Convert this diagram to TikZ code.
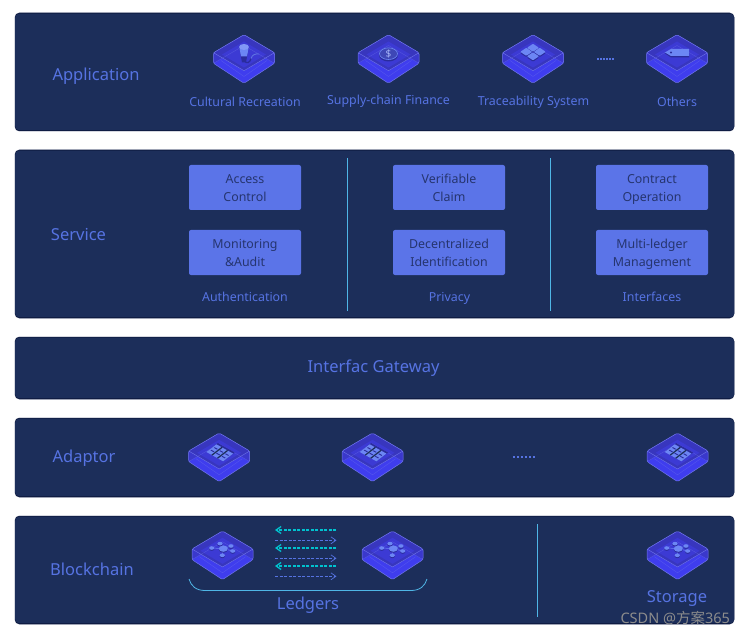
\documentclass[tikz,border=0pt]{standalone}
\usepackage{fontspec}
\setmainfont{Noto Sans}
\newfontfamily\cjkfont{Noto Sans CJK SC}
\usetikzlibrary{arrows.meta}
\definecolor{panelblue}{HTML}{1C2E5A}
\definecolor{paneledge}{HTML}{0E1A40}
\definecolor{panelrimgray}{HTML}{8C93A8}
\definecolor{labelblue}{HTML}{5673E2}
\definecolor{boxblue}{HTML}{5B74E8}
\definecolor{boxtext}{HTML}{26356F}
\definecolor{slabblue}{HTML}{3F3DEE}
\definecolor{slabtop}{HTML}{3836BE}
\definecolor{slabinner}{HTML}{3C3AD4}
\definecolor{slabside}{HTML}{3A38CC}
\definecolor{slabline}{HTML}{7076EA}
\definecolor{glyphblue}{HTML}{6C86F4}
\definecolor{glyphdark}{HTML}{2A2C9C}
\definecolor{dashcyan}{HTML}{00C2CF}
\definecolor{rulecyan}{HTML}{4FB6E6}
\newcommand{\twolines}[2]{\rule{0pt}{14.6pt}#1\\#2\strut}
\tikzset{
  panel/.style={fill=panelblue, draw=none, rounded corners=4pt},
  bigtext/.style={text=labelblue, anchor=base, font=\fontsize{16.5}{20}\selectfont},
  smalltext/.style={text=labelblue, anchor=base, font=\fontsize{12.4}{15}\selectfont},
  servicebox/.style={fill=boxblue, rounded corners=2pt, minimum width=112pt, minimum height=45pt,
    inner sep=0pt, text=boxtext, align=center, font=\fontsize{12.4}{18}\selectfont},
  vrule/.style={rulecyan, line width=0.8pt},
  pics/stacklayer/.style={code={
    \fill[slabblue, rounded corners=1.5pt] (0,-24.8) -- (30.5,-6.8) -- (30.5,3.8) -- (0,23.8) -- (-30.5,3.8) -- (-30.5,-6.8) -- cycle;
    \fill[slabside] (-30.5,-6.8) -- (0,11.2) -- (30.5,-6.8) -- (30.5,3.8) -- (0,-14) -- (-30.5,3.8) -- cycle;
    \fill[slabtop, rounded corners=1.5pt] (0,-24.8) -- (30.5,-6.8) -- (0,11.2) -- (-30.5,-6.8) -- cycle;
    \fill[slabinner] (0,-18) -- (22,-5) -- (0,8) -- (-22,-5) -- cycle;
    \draw[slabline, line width=0.5pt, rounded corners=1.5pt] (0,-24.8) -- (30.5,-6.8) -- (30.5,3.8) -- (0,23.8) -- (-30.5,3.8) -- (-30.5,-6.8) -- cycle;
    \draw[slabline, line width=0.4pt] (-30.5,-6.8) -- (0,11.2) -- (30.5,-6.8);
    \draw[slabline, opacity=0.45, line width=0.4pt] (-30.5,3.8) -- (0,-14) -- (30.5,3.8);
    \draw[slabline, opacity=0.45, line width=0.4pt] (-23,1) -- (0,17) -- (23,1);
  }},
  pics/micglyph/.style={code={
    \draw[glyphdark, line width=1.2pt] (0,1) .. controls (3,5) and (6,3) .. (7,-1);
    \draw[glyphblue!80!glyphdark, line width=0.9pt] (7,-1) .. controls (8,-5) and (12,-6) .. (15,-5.5);
    \fill[glyphdark] (-4.5,-11) -- (4.5,-11) -- (2,3) -- (-2,3) -- cycle;
    \fill[glyphblue] (-4.5,-11) -- (4.5,-11) -- (3,-3) -- (-3,-3) -- cycle;
    \fill[glyphblue!85!white] (0,-12.5) ellipse (5 and 3);
  }},
  pics/coinglyph/.style={code={
    \fill[glyphdark] (0,-4.5) ellipse (9.5 and 6.5);
    \fill[glyphdark!70!glyphblue] (0,-5.8) ellipse (9.5 and 6.2);
    \draw[glyphblue, line width=0.6pt] (0,-5.8) ellipse (9 and 5.8);
    \node[text=glyphblue!60!white, font=\fontsize{10}{10}\selectfont\bfseries] (coinsign) at (0,-5.8) {\$};
  }},
  pics/tileglyph/.style={code={
    \foreach \dx/\dy in {0/-11.7,-6.7/-7.7,6.7/-7.7,0/-3.2} {
      \fill[glyphdark, rounded corners=0.8pt] (\dx,\dy-3) -- (\dx+6,\dy+1.3) -- (\dx,\dy+5.4) -- (\dx-6,\dy+1.3) -- cycle;
      \fill[glyphblue, rounded corners=0.8pt] (\dx,\dy-4) -- (\dx+6,\dy) -- (\dx,\dy+4) -- (\dx-6,\dy) -- cycle;
    }
  }},
  pics/tagglyph/.style={code={
    \fill[glyphdark] (-12,-6) -- (-6,-9.5) -- (12,-9.5) -- (12,-2) -- (-6,-2) -- cycle;
    \fill[glyphblue] (-12,-7) -- (-6,-10.5) -- (12,-10.5) -- (12,-3.5) -- (-6,-3.5) -- cycle;
    \fill[glyphdark] (-6,-7) circle (1.2);
  }},
  pics/serverglyph/.style={code={
    % three columns of three cells, laid along the slab's own axes
    \begin{scope}[shift={(-2.8,-13.5)}, x={(16.7pt,-9.3pt)}, y={(-10pt,-7.7pt)}]
      \fill[glyphdark] (0,0.0) ++(0,-0.15) -- ++(1,0) -- ++(0,1) -- ++(-1,0) -- cycle;
      \fill[glyphblue] (0,0) -- (1,0) -- (1,1) -- (0,1) -- cycle;
      \foreach \col in {1,2}
        \fill[panelblue] (\col/3-0.035,-0.01) -- (\col/3+0.035,-0.01) -- (\col/3+0.035,1.01) -- (\col/3-0.035,1.01) -- cycle;
      \foreach \row in {1,2}
        \foreach \col in {0,1,2}
          \fill[glyphdark] (\col/3+0.07,\row/3-0.04) -- (\col/3+0.26,\row/3-0.04) -- (\col/3+0.26,\row/3+0.04) -- (\col/3+0.07,\row/3+0.04) -- cycle;
    \end{scope}
  }},
  pics/netglyph/.style={code={
    \draw[glyphblue, line width=0.5pt] (0.8,-7.2) -- (-10.8,-7.8) (0.8,-7.2) -- (-2.5,-12.2) (0.8,-7.2) -- (8.5,-9.8) (0.8,-7.2) -- (10.2,-4.8) (0.8,-7.2) -- (-0.2,-0.5);
    \fill[glyphdark] (0.8,-6.2) ellipse (4.5 and 3.2);
    \fill[glyphblue] (0.8,-7.2) ellipse (4.5 and 3.2);
    \foreach \dx/\dy in {-10.8/-7.8,-2.5/-12.2,8.5/-9.8,10.2/-4.8,-0.2/-0.5} {
      \fill[glyphdark] (\dx,\dy+1) ellipse (2.6 and 1.8);
      \fill[glyphblue] (\dx,\dy) ellipse (2.6 and 1.8);
    }
  }},
}
\begin{document}
\begin{tikzpicture}[x=1pt, y=-1pt]
  \useasboundingbox (0,0) rectangle (749,636);
  \fill[white] (0,0) rectangle (749,636);
  % panels
  \foreach \top/\bot/\name in {13/131/appPanel,150/318/servicePanel,337/399/gatewayPanel,418/497/adaptorPanel,516/624/chainPanel} {
    \fill[panelrimgray, rounded corners=5pt] (14.5,\top-0.5) rectangle (734.5,\bot+0.5);
    \fill[paneledge, rounded corners=4pt] (15,\top) rectangle (734,\bot);
    \node[panel, anchor=north west, minimum width=719pt, minimum height={\bot-\top-1.5}, inner sep=0pt] (\name) at (15,\top+0.5) {};
  }
  % application
  \node[bigtext] (appLabel) at (96,81) {Application};
  \pic at (244,59.5) {stacklayer};
  \pic at (244,59.5) {micglyph};
  \pic at (388.5,59.5) {stacklayer};
  \pic at (388.5,59.5) {coinglyph};
  \pic at (533,59.5) {stacklayer};
  \pic at (533,59.5) {tileglyph};
  \pic at (677,59.5) {stacklayer};
  \pic at (677,59.5) {tagglyph};
  \node[smalltext] (cultureLabel) at (245,107) {Cultural Recreation};
  \node[smalltext] (financeLabel) at (388.5,105) {Supply-chain Finance};
  \node[smalltext] (traceLabel) at (533.5,106) {Traceability System};
  \node[smalltext] (othersLabel) at (677,107) {Others};
  \coordinate (appDotsA) at (597,59.5);
  \coordinate (appDotsB) at (614,59.5);
  \draw[labelblue, line width=2pt, dash pattern=on 2pt off 1pt] (appDotsA) -- (appDotsB);
  % service
  \node[bigtext] (serviceLabel) at (78.5,241) {Service};
  \node[servicebox] (accessBox) at (245,187.5) {\twolines{Access}{Control}};
  \node[servicebox] (monitorBox) at (245,252.5) {\twolines{Monitoring}{\&Audit}};
  \node[servicebox] (claimBox) at (449,187.5) {\twolines{Verifiable}{Claim}};
  \node[servicebox] (didBox) at (449,252.5) {\twolines{Decentralized}{Identification}};
  \node[servicebox] (contractBox) at (652,187.5) {\twolines{Contract}{Operation}};
  \node[servicebox] (ledgerBox) at (652,252.5) {\twolines{Multi-ledger}{Management}};
  \node[smalltext] (authLabel) at (245,301) {Authentication};
  \node[smalltext] (privacyLabel) at (449.5,301) {Privacy};
  \node[smalltext] (interfaceLabel) at (652,301) {Interfaces};
  \coordinate (ruleAtop) at (347.5,158);
  \coordinate (ruleAbot) at (347.5,311);
  \coordinate (ruleBtop) at (550.5,158);
  \coordinate (ruleBbot) at (550.5,311);
  \draw[vrule] (ruleAtop) -- (ruleAbot);
  \draw[vrule] (ruleBtop) -- (ruleBbot);
  % gateway
  \node[bigtext] (gatewayLabel) at (373.5,372) {Interfac Gateway};
  % adaptor
  \node[bigtext] (adaptorLabel) at (84,462) {Adaptor};
  \foreach \xpos in {219.2,372.5,677.5} {
    \pic at (\xpos,457.8) {stacklayer};
    \pic at (\xpos,457.8) {serverglyph};
  }
  \coordinate (adaptDotsA) at (513,456.5);
  \coordinate (adaptDotsB) at (536,456.5);
  \draw[labelblue, line width=2pt, dash pattern=on 2pt off 2pt] (adaptDotsA) -- (adaptDotsB);
  % blockchain
  \node[bigtext] (chainLabel) at (92,575) {Blockchain};
  \foreach \xpos in {222.5,392.5,677.5} {
    \pic at (\xpos,555.8) {stacklayer};
    \pic at (\xpos,555.8) {netglyph};
  }
  \foreach \ypos/\tag in {530/a,548/b,566/c} {
    \coordinate (left\tag) at (275,\ypos);
    \coordinate (right\tag) at (336,\ypos);
    \draw[dashcyan, line width=1.1pt, dash pattern=on 3pt off 1.5pt, -{Straight Barb[length=5pt, width=7pt, line width=1.3pt]}] (right\tag) -- (left\tag);
  }
  \foreach \ypos/\tag in {540.3/d,558.3/e,576.3/f} {
    \coordinate (left\tag) at (275,\ypos);
    \coordinate (right\tag) at (336.5,\ypos);
    \draw[labelblue, line width=0.8pt, dash pattern=on 3pt off 1.5pt, -{Straight Barb[length=5pt, width=7pt, line width=0.7pt]}] (left\tag) -- (right\tag);
  }
  \coordinate (braceA) at (189,579);
  \coordinate (braceB) at (427,579);
  \draw[rulecyan, line width=0.8pt] (braceA) .. controls (191,586) and (196,590.5) .. (205,590.5) -- (411,590.5) .. controls (420,590.5) and (425,586) .. (braceB);
  \node[bigtext] (ledgerLabel) at (308,609) {Ledgers};
  \coordinate (ruleCtop) at (537.5,524);
  \coordinate (ruleCbot) at (537.5,617);
  \draw[vrule] (ruleCtop) -- (ruleCbot);
  \node[bigtext] (storageLabel) at (677,602) {Storage};
  \node[text=black!45, font=\fontsize{14.5}{16}\selectfont, anchor=base east] (markLabel) at (733.5,623) {CSDN @{\cjkfont 方案}365};
\end{tikzpicture}
\end{document}
